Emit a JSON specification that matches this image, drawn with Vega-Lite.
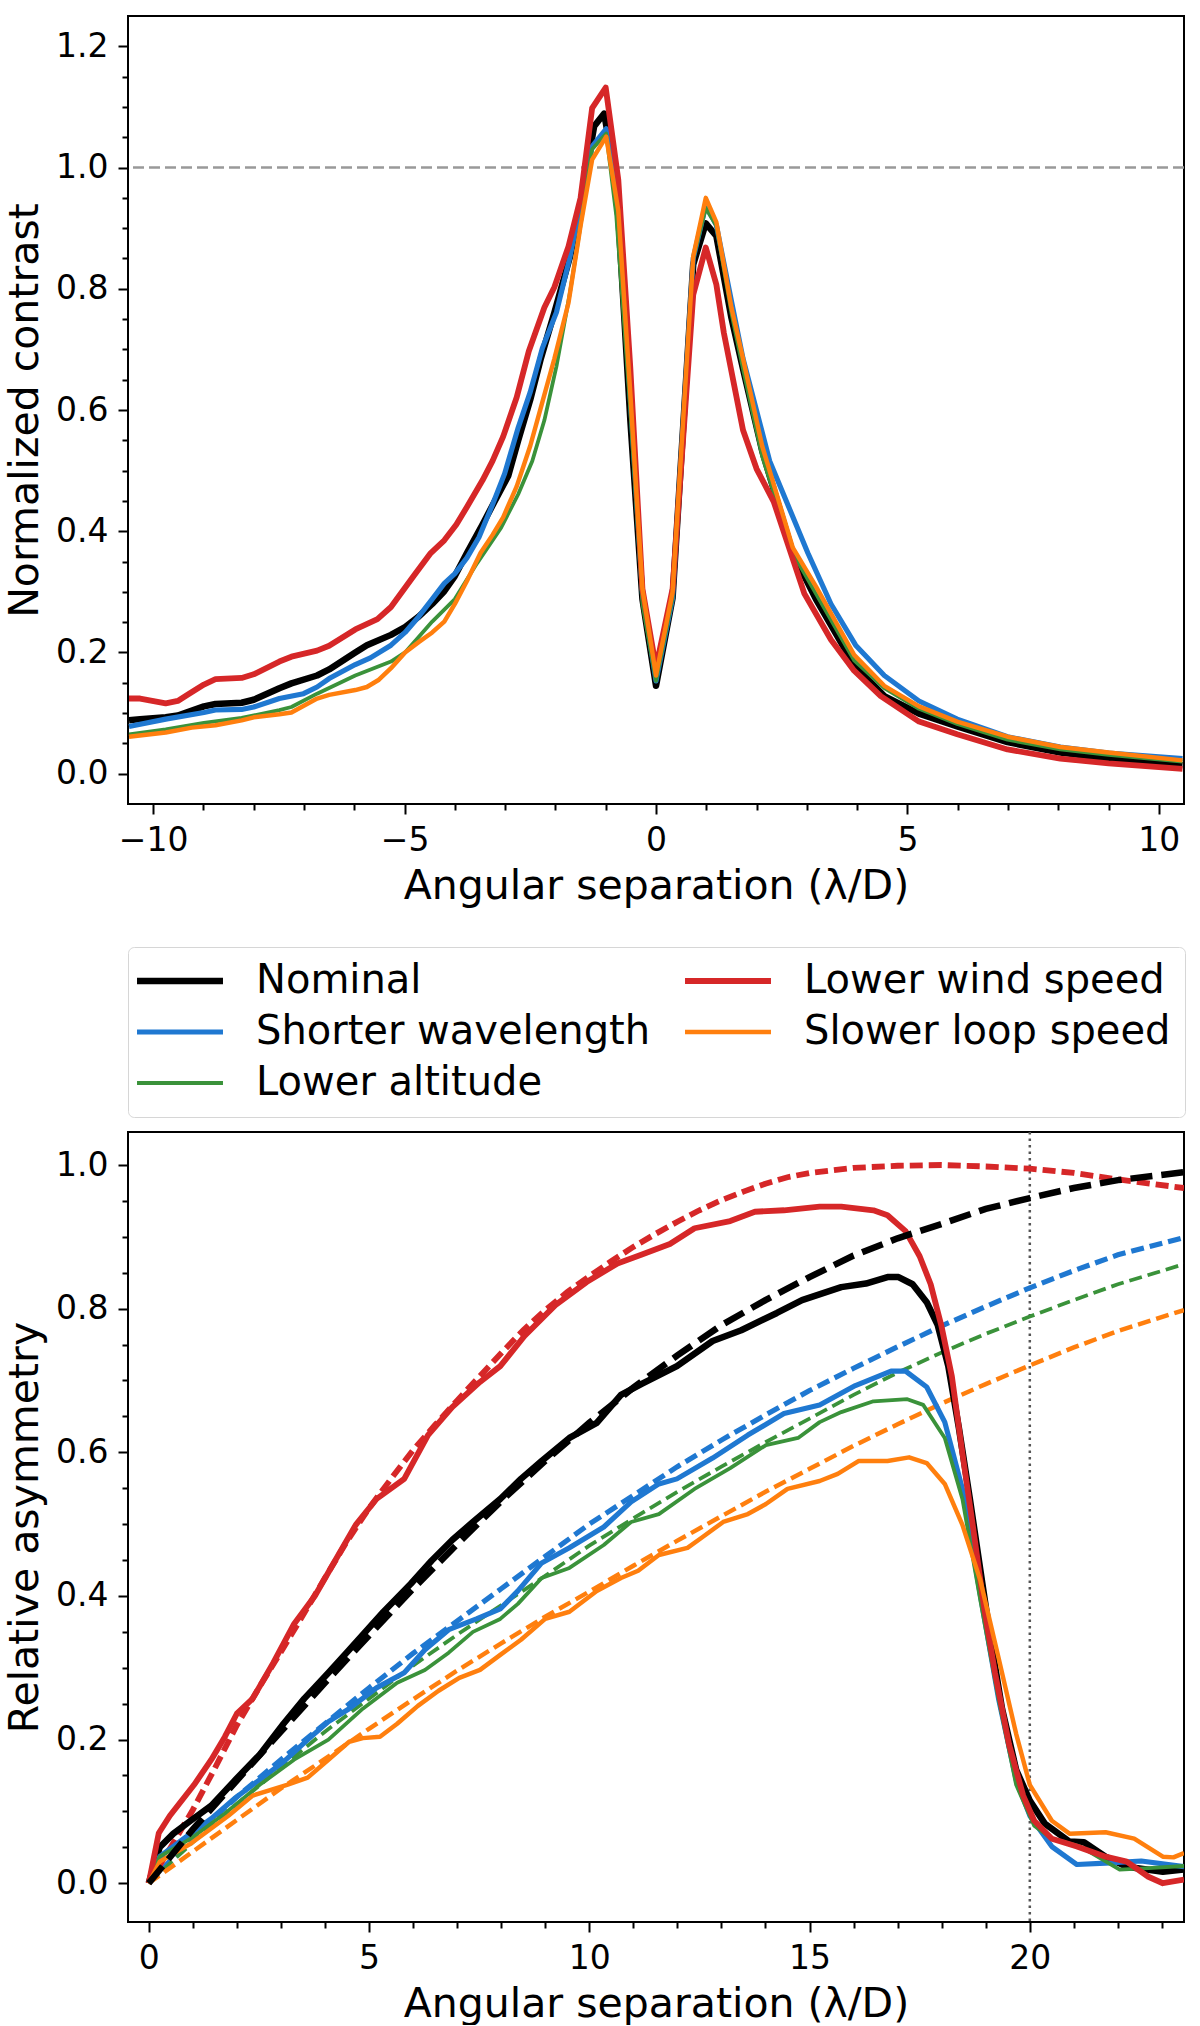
{
  "$schema": "https://vega.github.io/schema/vega-lite/v6.json",
  "padding": {"left": 3, "top": 15, "right": 0, "bottom": 0},
  "background": "white",
  "config": {
    "font": "DejaVu Sans",
    "view": {"stroke": "black", "strokeWidth": 2},
    "axis": {
      "domain": false, "grid": false,
      "labelFont": "DejaVu Sans", "labelFontSize": 33, "labelColor": "black",
      "labelPadding": 10, "labelFlush": false, "labelOverlap": false,
      "tickColor": "black", "tickWidth": 2,
      "titleFont": "DejaVu Sans", "titleFontSize": 41, "titleFontWeight": "normal", "titleColor": "black", "titlePadding": 9
    },
    "legend": {
      "title": null, "orient": "top", "columns": 2, "offset": 15,
      "symbolType": "M-4,0H4", "symbolSize": 462, "symbolOffset": 18,
      "labelFont": "DejaVu Sans", "labelFontSize": 40, "labelColor": "black", "labelLimit": 0,
      "labelOffset": 56, "columnPadding": 22, "rowPadding": 11, "padding": 14,
      "strokeColor": "#d6d6d6", "fillColor": "white", "cornerRadius": 6
    }
  },
  "datasets": {
    "contrast": [
      {"s":"Nominal","x":-10.48,"y":0.088},{"s":"Nominal","x":-10.26,"y":0.090},{"s":"Nominal","x":-9.75,"y":0.093},{"s":"Nominal","x":-9.51,"y":0.096},{"s":"Nominal","x":-8.99,"y":0.111},{"s":"Nominal","x":-8.76,"y":0.115},{"s":"Nominal","x":-8.24,"y":0.117},{"s":"Nominal","x":-8.0,"y":0.122},{"s":"Nominal","x":-7.49,"y":0.141},{"s":"Nominal","x":-7.25,"y":0.149},{"s":"Nominal","x":-6.74,"y":0.162},{"s":"Nominal","x":-6.5,"y":0.172},{"s":"Nominal","x":-5.98,"y":0.200},{"s":"Nominal","x":-5.75,"y":0.212},{"s":"Nominal","x":-5.27,"y":0.229},{"s":"Nominal","x":-4.99,"y":0.242},{"s":"Nominal","x":-4.72,"y":0.259},{"s":"Nominal","x":-4.45,"y":0.280},{"s":"Nominal","x":-4.21,"y":0.301},{"s":"Nominal","x":-4.0,"y":0.326},{"s":"Nominal","x":-3.76,"y":0.364},{"s":"Nominal","x":-3.45,"y":0.411},{"s":"Nominal","x":-3.21,"y":0.449},{"s":"Nominal","x":-2.94,"y":0.491},{"s":"Nominal","x":-2.74,"y":0.550},{"s":"Nominal","x":-2.50,"y":0.617},{"s":"Nominal","x":-2.29,"y":0.685},{"s":"Nominal","x":-2.02,"y":0.761},{"s":"Nominal","x":-1.71,"y":0.853},{"s":"Nominal","x":-1.47,"y":0.954},{"s":"Nominal","x":-1.23,"y":1.068},{"s":"Nominal","x":-1.03,"y":1.089},{"s":"Nominal","x":-0.89,"y":1.022},{"s":"Nominal","x":-0.75,"y":0.921},{"s":"Nominal","x":-0.51,"y":0.583},{"s":"Nominal","x":-0.27,"y":0.288},{"s":"Nominal","x":0,"y":0.145},{"s":"Nominal","x":0.33,"y":0.290},{"s":"Nominal","x":0.74,"y":0.840},{"s":"Nominal","x":0.99,"y":0.908},{"s":"Nominal","x":1.2,"y":0.887},{"s":"Nominal","x":1.5,"y":0.752},{"s":"Nominal","x":1.73,"y":0.668},{"s":"Nominal","x":2.11,"y":0.533},{"s":"Nominal","x":2.72,"y":0.364},{"s":"Nominal","x":3.18,"y":0.288},{"s":"Nominal","x":3.94,"y":0.179},{"s":"Nominal","x":4.54,"y":0.128},{"s":"Nominal","x":5.23,"y":0.099},{"s":"Nominal","x":5.99,"y":0.078},{"s":"Nominal","x":6.99,"y":0.052},{"s":"Nominal","x":8.04,"y":0.035},{"s":"Nominal","x":9.0,"y":0.025},{"s":"Nominal","x":10.47,"y":0.014},

      {"s":"Shorter wavelength","x":-10.48,"y":0.078},{"s":"Shorter wavelength","x":-9.75,"y":0.090},{"s":"Shorter wavelength","x":-8.99,"y":0.101},{"s":"Shorter wavelength","x":-8.76,"y":0.105},{"s":"Shorter wavelength","x":-8.24,"y":0.106},{"s":"Shorter wavelength","x":-8.0,"y":0.110},{"s":"Shorter wavelength","x":-7.49,"y":0.124},{"s":"Shorter wavelength","x":-7.01,"y":0.132},{"s":"Shorter wavelength","x":-6.74,"y":0.143},{"s":"Shorter wavelength","x":-6.5,"y":0.157},{"s":"Shorter wavelength","x":-5.98,"y":0.180},{"s":"Shorter wavelength","x":-5.68,"y":0.191},{"s":"Shorter wavelength","x":-5.27,"y":0.212},{"s":"Shorter wavelength","x":-4.99,"y":0.233},{"s":"Shorter wavelength","x":-4.72,"y":0.259},{"s":"Shorter wavelength","x":-4.45,"y":0.288},{"s":"Shorter wavelength","x":-4.21,"y":0.314},{"s":"Shorter wavelength","x":-4.0,"y":0.330},{"s":"Shorter wavelength","x":-3.76,"y":0.356},{"s":"Shorter wavelength","x":-3.52,"y":0.390},{"s":"Shorter wavelength","x":-3.25,"y":0.444},{"s":"Shorter wavelength","x":-3.01,"y":0.495},{"s":"Shorter wavelength","x":-2.74,"y":0.571},{"s":"Shorter wavelength","x":-2.50,"y":0.630},{"s":"Shorter wavelength","x":-2.26,"y":0.702},{"s":"Shorter wavelength","x":-1.98,"y":0.761},{"s":"Shorter wavelength","x":-1.71,"y":0.853},{"s":"Shorter wavelength","x":-1.50,"y":0.938},{"s":"Shorter wavelength","x":-1.27,"y":1.035},{"s":"Shorter wavelength","x":-0.99,"y":1.064},{"s":"Shorter wavelength","x":-0.75,"y":0.938},{"s":"Shorter wavelength","x":-0.51,"y":0.617},{"s":"Shorter wavelength","x":-0.27,"y":0.297},{"s":"Shorter wavelength","x":0,"y":0.153},{"s":"Shorter wavelength","x":0.33,"y":0.290},{"s":"Shorter wavelength","x":0.74,"y":0.850},{"s":"Shorter wavelength","x":0.99,"y":0.938},{"s":"Shorter wavelength","x":1.2,"y":0.905},{"s":"Shorter wavelength","x":1.5,"y":0.780},{"s":"Shorter wavelength","x":1.73,"y":0.685},{"s":"Shorter wavelength","x":2.26,"y":0.516},{"s":"Shorter wavelength","x":3.02,"y":0.364},{"s":"Shorter wavelength","x":3.48,"y":0.280},{"s":"Shorter wavelength","x":3.97,"y":0.212},{"s":"Shorter wavelength","x":4.54,"y":0.162},{"s":"Shorter wavelength","x":5.23,"y":0.120},{"s":"Shorter wavelength","x":5.99,"y":0.090},{"s":"Shorter wavelength","x":6.99,"y":0.061},{"s":"Shorter wavelength","x":8.04,"y":0.044},{"s":"Shorter wavelength","x":9.0,"y":0.034},{"s":"Shorter wavelength","x":10.47,"y":0.025},

      {"s":"Lower altitude","x":-10.48,"y":0.065},{"s":"Lower altitude","x":-9.75,"y":0.073},{"s":"Lower altitude","x":-8.99,"y":0.084},{"s":"Lower altitude","x":-8.24,"y":0.092},{"s":"Lower altitude","x":-7.49,"y":0.105},{"s":"Lower altitude","x":-7.25,"y":0.110},{"s":"Lower altitude","x":-6.74,"y":0.132},{"s":"Lower altitude","x":-5.98,"y":0.162},{"s":"Lower altitude","x":-5.27,"y":0.185},{"s":"Lower altitude","x":-4.99,"y":0.200},{"s":"Lower altitude","x":-4.45,"y":0.251},{"s":"Lower altitude","x":-4.0,"y":0.288},{"s":"Lower altitude","x":-3.56,"y":0.347},{"s":"Lower altitude","x":-3.08,"y":0.406},{"s":"Lower altitude","x":-2.74,"y":0.461},{"s":"Lower altitude","x":-2.46,"y":0.516},{"s":"Lower altitude","x":-2.22,"y":0.583},{"s":"Lower altitude","x":-1.98,"y":0.672},{"s":"Lower altitude","x":-1.71,"y":0.794},{"s":"Lower altitude","x":-1.47,"y":0.921},{"s":"Lower altitude","x":-1.27,"y":1.030},{"s":"Lower altitude","x":-0.99,"y":1.056},{"s":"Lower altitude","x":-0.79,"y":0.921},{"s":"Lower altitude","x":-0.51,"y":0.600},{"s":"Lower altitude","x":-0.27,"y":0.280},{"s":"Lower altitude","x":0,"y":0.153},{"s":"Lower altitude","x":0.33,"y":0.290},{"s":"Lower altitude","x":0.74,"y":0.850},{"s":"Lower altitude","x":0.99,"y":0.933},{"s":"Lower altitude","x":1.2,"y":0.904},{"s":"Lower altitude","x":1.5,"y":0.760},{"s":"Lower altitude","x":1.73,"y":0.668},{"s":"Lower altitude","x":2.11,"y":0.524},{"s":"Lower altitude","x":2.72,"y":0.364},{"s":"Lower altitude","x":3.18,"y":0.297},{"s":"Lower altitude","x":3.94,"y":0.187},{"s":"Lower altitude","x":4.54,"y":0.141},{"s":"Lower altitude","x":5.23,"y":0.107},{"s":"Lower altitude","x":5.99,"y":0.082},{"s":"Lower altitude","x":6.99,"y":0.056},{"s":"Lower altitude","x":8.04,"y":0.040},{"s":"Lower altitude","x":9.0,"y":0.031},{"s":"Lower altitude","x":10.47,"y":0.020},

      {"s":"Lower wind speed","x":-10.48,"y":0.124},{"s":"Lower wind speed","x":-10.26,"y":0.124},{"s":"Lower wind speed","x":-9.75,"y":0.116},{"s":"Lower wind speed","x":-9.51,"y":0.120},{"s":"Lower wind speed","x":-9.30,"y":0.131},{"s":"Lower wind speed","x":-8.99,"y":0.147},{"s":"Lower wind speed","x":-8.76,"y":0.156},{"s":"Lower wind speed","x":-8.24,"y":0.158},{"s":"Lower wind speed","x":-8.0,"y":0.164},{"s":"Lower wind speed","x":-7.49,"y":0.185},{"s":"Lower wind speed","x":-7.25,"y":0.193},{"s":"Lower wind speed","x":-6.74,"y":0.203},{"s":"Lower wind speed","x":-6.5,"y":0.211},{"s":"Lower wind speed","x":-5.98,"y":0.238},{"s":"Lower wind speed","x":-5.54,"y":0.255},{"s":"Lower wind speed","x":-5.27,"y":0.275},{"s":"Lower wind speed","x":-4.82,"y":0.326},{"s":"Lower wind speed","x":-4.48,"y":0.364},{"s":"Lower wind speed","x":-4.21,"y":0.385},{"s":"Lower wind speed","x":-3.97,"y":0.411},{"s":"Lower wind speed","x":-3.76,"y":0.440},{"s":"Lower wind speed","x":-3.45,"y":0.484},{"s":"Lower wind speed","x":-3.25,"y":0.516},{"s":"Lower wind speed","x":-3.04,"y":0.556},{"s":"Lower wind speed","x":-2.77,"y":0.621},{"s":"Lower wind speed","x":-2.53,"y":0.697},{"s":"Lower wind speed","x":-2.22,"y":0.769},{"s":"Lower wind speed","x":-2.02,"y":0.803},{"s":"Lower wind speed","x":-1.74,"y":0.870},{"s":"Lower wind speed","x":-1.50,"y":0.950},{"s":"Lower wind speed","x":-1.27,"y":1.098},{"s":"Lower wind speed","x":-1.0,"y":1.132},{"s":"Lower wind speed","x":-0.75,"y":0.980},{"s":"Lower wind speed","x":-0.51,"y":0.668},{"s":"Lower wind speed","x":-0.27,"y":0.305},{"s":"Lower wind speed","x":0,"y":0.175},{"s":"Lower wind speed","x":0.33,"y":0.305},{"s":"Lower wind speed","x":0.74,"y":0.790},{"s":"Lower wind speed","x":0.99,"y":0.868},{"s":"Lower wind speed","x":1.2,"y":0.807},{"s":"Lower wind speed","x":1.35,"y":0.727},{"s":"Lower wind speed","x":1.73,"y":0.567},{"s":"Lower wind speed","x":2.0,"y":0.503},{"s":"Lower wind speed","x":2.34,"y":0.449},{"s":"Lower wind speed","x":2.95,"y":0.297},{"s":"Lower wind speed","x":3.48,"y":0.221},{"s":"Lower wind speed","x":3.94,"y":0.170},{"s":"Lower wind speed","x":4.47,"y":0.128},{"s":"Lower wind speed","x":5.23,"y":0.086},{"s":"Lower wind speed","x":5.99,"y":0.065},{"s":"Lower wind speed","x":6.99,"y":0.040},{"s":"Lower wind speed","x":8.04,"y":0.025},{"s":"Lower wind speed","x":9.0,"y":0.017},{"s":"Lower wind speed","x":10.47,"y":0.008},

      {"s":"Slower loop speed","x":-10.48,"y":0.061},{"s":"Slower loop speed","x":-9.75,"y":0.068},{"s":"Slower loop speed","x":-9.23,"y":0.076},{"s":"Slower loop speed","x":-8.76,"y":0.080},{"s":"Slower loop speed","x":-8.24,"y":0.088},{"s":"Slower loop speed","x":-8.0,"y":0.093},{"s":"Slower loop speed","x":-7.49,"y":0.098},{"s":"Slower loop speed","x":-7.25,"y":0.101},{"s":"Slower loop speed","x":-6.74,"y":0.124},{"s":"Slower loop speed","x":-6.5,"y":0.130},{"s":"Slower loop speed","x":-5.98,"y":0.138},{"s":"Slower loop speed","x":-5.75,"y":0.143},{"s":"Slower loop speed","x":-5.51,"y":0.155},{"s":"Slower loop speed","x":-5.27,"y":0.174},{"s":"Slower loop speed","x":-4.99,"y":0.200},{"s":"Slower loop speed","x":-4.72,"y":0.217},{"s":"Slower loop speed","x":-4.45,"y":0.233},{"s":"Slower loop speed","x":-4.21,"y":0.251},{"s":"Slower loop speed","x":-4.0,"y":0.280},{"s":"Slower loop speed","x":-3.76,"y":0.318},{"s":"Slower loop speed","x":-3.49,"y":0.364},{"s":"Slower loop speed","x":-3.25,"y":0.394},{"s":"Slower loop speed","x":-3.04,"y":0.423},{"s":"Slower loop speed","x":-2.77,"y":0.474},{"s":"Slower loop speed","x":-2.50,"y":0.541},{"s":"Slower loop speed","x":-2.26,"y":0.613},{"s":"Slower loop speed","x":-2.02,"y":0.685},{"s":"Slower loop speed","x":-1.74,"y":0.777},{"s":"Slower loop speed","x":-1.50,"y":0.904},{"s":"Slower loop speed","x":-1.27,"y":1.013},{"s":"Slower loop speed","x":-0.99,"y":1.051},{"s":"Slower loop speed","x":-0.75,"y":0.929},{"s":"Slower loop speed","x":-0.51,"y":0.626},{"s":"Slower loop speed","x":-0.27,"y":0.305},{"s":"Slower loop speed","x":0,"y":0.162},{"s":"Slower loop speed","x":0.33,"y":0.300},{"s":"Slower loop speed","x":0.74,"y":0.853},{"s":"Slower loop speed","x":0.99,"y":0.950},{"s":"Slower loop speed","x":1.2,"y":0.910},{"s":"Slower loop speed","x":1.5,"y":0.769},{"s":"Slower loop speed","x":1.73,"y":0.685},{"s":"Slower loop speed","x":2.11,"y":0.541},{"s":"Slower loop speed","x":2.72,"y":0.373},{"s":"Slower loop speed","x":3.18,"y":0.309},{"s":"Slower loop speed","x":3.94,"y":0.196},{"s":"Slower loop speed","x":4.54,"y":0.145},{"s":"Slower loop speed","x":5.23,"y":0.111},{"s":"Slower loop speed","x":5.99,"y":0.086},{"s":"Slower loop speed","x":6.99,"y":0.061},{"s":"Slower loop speed","x":8.04,"y":0.044},{"s":"Slower loop speed","x":9.0,"y":0.035},{"s":"Slower loop speed","x":10.47,"y":0.022}
    ],
    "asym": [
      {"s":"Nominal","x":0,"y":0},{"s":"Nominal","x":0.25,"y":0.050},{"s":"Nominal","x":0.56,"y":0.069},{"s":"Nominal","x":0.95,"y":0.087},{"s":"Nominal","x":1.42,"y":0.108},{"s":"Nominal","x":1.97,"y":0.144},{"s":"Nominal","x":2.52,"y":0.179},{"s":"Nominal","x":3.06,"y":0.222},{"s":"Nominal","x":3.53,"y":0.257},{"s":"Nominal","x":4.08,"y":0.293},{"s":"Nominal","x":4.55,"y":0.325},{"s":"Nominal","x":5.33,"y":0.378},{"s":"Nominal","x":5.95,"y":0.417},{"s":"Nominal","x":6.42,"y":0.449},{"s":"Nominal","x":6.89,"y":0.478},{"s":"Nominal","x":7.36,"y":0.503},{"s":"Nominal","x":7.98,"y":0.535},{"s":"Nominal","x":8.45,"y":0.563},{"s":"Nominal","x":8.92,"y":0.588},{"s":"Nominal","x":9.55,"y":0.620},{"s":"Nominal","x":10.17,"y":0.641},{"s":"Nominal","x":10.72,"y":0.680},{"s":"Nominal","x":11.18,"y":0.695},{"s":"Nominal","x":11.99,"y":0.720},{"s":"Nominal","x":12.8,"y":0.755},{"s":"Nominal","x":13.45,"y":0.770},{"s":"Nominal","x":14.26,"y":0.794},{"s":"Nominal","x":14.83,"y":0.812},{"s":"Nominal","x":15.72,"y":0.830},{"s":"Nominal","x":16.28,"y":0.835},{"s":"Nominal","x":16.77,"y":0.844},{"s":"Nominal","x":17.02,"y":0.844},{"s":"Nominal","x":17.34,"y":0.834},{"s":"Nominal","x":17.66,"y":0.809},{"s":"Nominal","x":17.91,"y":0.777},{"s":"Nominal","x":18.15,"y":0.720},{"s":"Nominal","x":18.39,"y":0.634},{"s":"Nominal","x":18.64,"y":0.535},{"s":"Nominal","x":18.88,"y":0.435},{"s":"Nominal","x":19.12,"y":0.336},{"s":"Nominal","x":19.37,"y":0.243},{"s":"Nominal","x":19.69,"y":0.158},{"s":"Nominal","x":20.0,"y":0.115},{"s":"Nominal","x":20.34,"y":0.083},{"s":"Nominal","x":20.9,"y":0.058},{"s":"Nominal","x":21.23,"y":0.057},{"s":"Nominal","x":21.72,"y":0.037},{"s":"Nominal","x":22.2,"y":0.023},{"s":"Nominal","x":23.02,"y":0.016},{"s":"Nominal","x":23.5,"y":0.019},

      {"s":"Shorter wavelength","x":0,"y":0},{"s":"Shorter wavelength","x":0.25,"y":0.037},{"s":"Shorter wavelength","x":0.95,"y":0.069},{"s":"Shorter wavelength","x":1.42,"y":0.090},{"s":"Shorter wavelength","x":1.97,"y":0.119},{"s":"Shorter wavelength","x":2.52,"y":0.144},{"s":"Shorter wavelength","x":3.06,"y":0.169},{"s":"Shorter wavelength","x":3.61,"y":0.200},{"s":"Shorter wavelength","x":4.08,"y":0.225},{"s":"Shorter wavelength","x":4.55,"y":0.243},{"s":"Shorter wavelength","x":5.17,"y":0.272},{"s":"Shorter wavelength","x":5.8,"y":0.293},{"s":"Shorter wavelength","x":6.27,"y":0.325},{"s":"Shorter wavelength","x":6.81,"y":0.353},{"s":"Shorter wavelength","x":7.44,"y":0.368},{"s":"Shorter wavelength","x":7.98,"y":0.382},{"s":"Shorter wavelength","x":8.38,"y":0.407},{"s":"Shorter wavelength","x":8.92,"y":0.446},{"s":"Shorter wavelength","x":9.55,"y":0.467},{"s":"Shorter wavelength","x":10.33,"y":0.496},{"s":"Shorter wavelength","x":10.95,"y":0.531},{"s":"Shorter wavelength","x":11.58,"y":0.556},{"s":"Shorter wavelength","x":11.99,"y":0.563},{"s":"Shorter wavelength","x":12.8,"y":0.592},{"s":"Shorter wavelength","x":13.6,"y":0.624},{"s":"Shorter wavelength","x":14.42,"y":0.654},{"s":"Shorter wavelength","x":15.23,"y":0.666},{"s":"Shorter wavelength","x":16.04,"y":0.693},{"s":"Shorter wavelength","x":16.85,"y":0.713},{"s":"Shorter wavelength","x":17.18,"y":0.713},{"s":"Shorter wavelength","x":17.66,"y":0.691},{"s":"Shorter wavelength","x":18.07,"y":0.642},{"s":"Shorter wavelength","x":18.47,"y":0.549},{"s":"Shorter wavelength","x":18.88,"y":0.400},{"s":"Shorter wavelength","x":19.29,"y":0.257},{"s":"Shorter wavelength","x":19.69,"y":0.144},{"s":"Shorter wavelength","x":20.0,"y":0.094},{"s":"Shorter wavelength","x":20.5,"y":0.051},{"s":"Shorter wavelength","x":21.07,"y":0.026},{"s":"Shorter wavelength","x":21.72,"y":0.028},{"s":"Shorter wavelength","x":22.53,"y":0.031},{"s":"Shorter wavelength","x":23.5,"y":0.023},

      {"s":"Lower altitude","x":0,"y":0},{"s":"Lower altitude","x":0.25,"y":0.037},{"s":"Lower altitude","x":0.95,"y":0.062},{"s":"Lower altitude","x":1.73,"y":0.097},{"s":"Lower altitude","x":2.52,"y":0.137},{"s":"Lower altitude","x":3.3,"y":0.172},{"s":"Lower altitude","x":4.08,"y":0.200},{"s":"Lower altitude","x":4.86,"y":0.243},{"s":"Lower altitude","x":5.64,"y":0.279},{"s":"Lower altitude","x":6.27,"y":0.297},{"s":"Lower altitude","x":6.81,"y":0.321},{"s":"Lower altitude","x":7.36,"y":0.350},{"s":"Lower altitude","x":7.98,"y":0.368},{"s":"Lower altitude","x":8.38,"y":0.389},{"s":"Lower altitude","x":8.92,"y":0.425},{"s":"Lower altitude","x":9.55,"y":0.439},{"s":"Lower altitude","x":10.33,"y":0.471},{"s":"Lower altitude","x":10.95,"y":0.503},{"s":"Lower altitude","x":11.58,"y":0.514},{"s":"Lower altitude","x":12.39,"y":0.549},{"s":"Lower altitude","x":13.2,"y":0.578},{"s":"Lower altitude","x":14.01,"y":0.610},{"s":"Lower altitude","x":14.74,"y":0.620},{"s":"Lower altitude","x":15.23,"y":0.642},{"s":"Lower altitude","x":15.72,"y":0.656},{"s":"Lower altitude","x":16.45,"y":0.671},{"s":"Lower altitude","x":17.22,"y":0.674},{"s":"Lower altitude","x":17.58,"y":0.666},{"s":"Lower altitude","x":18.07,"y":0.620},{"s":"Lower altitude","x":18.47,"y":0.535},{"s":"Lower altitude","x":18.88,"y":0.393},{"s":"Lower altitude","x":19.29,"y":0.257},{"s":"Lower altitude","x":19.69,"y":0.137},{"s":"Lower altitude","x":20.1,"y":0.080},{"s":"Lower altitude","x":20.5,"y":0.062},{"s":"Lower altitude","x":21.15,"y":0.051},{"s":"Lower altitude","x":22.04,"y":0.019},{"s":"Lower altitude","x":22.69,"y":0.021},{"s":"Lower altitude","x":23.5,"y":0.024},

      {"s":"Lower wind speed","x":0,"y":0},{"s":"Lower wind speed","x":0.23,"y":0.070},{"s":"Lower wind speed","x":0.48,"y":0.094},{"s":"Lower wind speed","x":1.03,"y":0.137},{"s":"Lower wind speed","x":1.42,"y":0.172},{"s":"Lower wind speed","x":1.73,"y":0.204},{"s":"Lower wind speed","x":2.0,"y":0.236},{"s":"Lower wind speed","x":2.36,"y":0.257},{"s":"Lower wind speed","x":2.83,"y":0.307},{"s":"Lower wind speed","x":3.3,"y":0.361},{"s":"Lower wind speed","x":3.77,"y":0.400},{"s":"Lower wind speed","x":4.23,"y":0.449},{"s":"Lower wind speed","x":4.7,"y":0.499},{"s":"Lower wind speed","x":5.17,"y":0.535},{"s":"Lower wind speed","x":5.8,"y":0.563},{"s":"Lower wind speed","x":6.34,"y":0.624},{"s":"Lower wind speed","x":6.89,"y":0.663},{"s":"Lower wind speed","x":7.52,"y":0.698},{"s":"Lower wind speed","x":7.98,"y":0.720},{"s":"Lower wind speed","x":8.53,"y":0.762},{"s":"Lower wind speed","x":9.23,"y":0.805},{"s":"Lower wind speed","x":9.94,"y":0.837},{"s":"Lower wind speed","x":10.64,"y":0.863},{"s":"Lower wind speed","x":11.18,"y":0.875},{"s":"Lower wind speed","x":11.83,"y":0.890},{"s":"Lower wind speed","x":12.39,"y":0.912},{"s":"Lower wind speed","x":13.2,"y":0.922},{"s":"Lower wind speed","x":13.76,"y":0.935},{"s":"Lower wind speed","x":14.42,"y":0.937},{"s":"Lower wind speed","x":15.23,"y":0.942},{"s":"Lower wind speed","x":15.72,"y":0.942},{"s":"Lower wind speed","x":16.45,"y":0.937},{"s":"Lower wind speed","x":16.77,"y":0.930},{"s":"Lower wind speed","x":17.18,"y":0.908},{"s":"Lower wind speed","x":17.5,"y":0.873},{"s":"Lower wind speed","x":17.75,"y":0.834},{"s":"Lower wind speed","x":17.99,"y":0.777},{"s":"Lower wind speed","x":18.23,"y":0.706},{"s":"Lower wind speed","x":18.47,"y":0.599},{"s":"Lower wind speed","x":18.72,"y":0.492},{"s":"Lower wind speed","x":18.96,"y":0.385},{"s":"Lower wind speed","x":19.21,"y":0.293},{"s":"Lower wind speed","x":19.53,"y":0.193},{"s":"Lower wind speed","x":19.85,"y":0.122},{"s":"Lower wind speed","x":20.1,"y":0.087},{"s":"Lower wind speed","x":20.5,"y":0.062},{"s":"Lower wind speed","x":21.07,"y":0.051},{"s":"Lower wind speed","x":21.72,"y":0.037},{"s":"Lower wind speed","x":22.2,"y":0.030},{"s":"Lower wind speed","x":22.69,"y":0.009},{"s":"Lower wind speed","x":23.02,"y":0.000},{"s":"Lower wind speed","x":23.5,"y":0.005},

      {"s":"Slower loop speed","x":0,"y":0},{"s":"Slower loop speed","x":0.25,"y":0.030},{"s":"Slower loop speed","x":0.95,"y":0.055},{"s":"Slower loop speed","x":1.81,"y":0.094},{"s":"Slower loop speed","x":2.36,"y":0.122},{"s":"Slower loop speed","x":3.14,"y":0.137},{"s":"Slower loop speed","x":3.61,"y":0.147},{"s":"Slower loop speed","x":4.08,"y":0.172},{"s":"Slower loop speed","x":4.55,"y":0.197},{"s":"Slower loop speed","x":4.86,"y":0.202},{"s":"Slower loop speed","x":5.25,"y":0.204},{"s":"Slower loop speed","x":5.64,"y":0.222},{"s":"Slower loop speed","x":6.11,"y":0.247},{"s":"Slower loop speed","x":6.58,"y":0.268},{"s":"Slower loop speed","x":7.05,"y":0.286},{"s":"Slower loop speed","x":7.52,"y":0.297},{"s":"Slower loop speed","x":7.98,"y":0.318},{"s":"Slower loop speed","x":8.45,"y":0.339},{"s":"Slower loop speed","x":9.0,"y":0.368},{"s":"Slower loop speed","x":9.55,"y":0.378},{"s":"Slower loop speed","x":10.17,"y":0.407},{"s":"Slower loop speed","x":10.72,"y":0.425},{"s":"Slower loop speed","x":11.11,"y":0.435},{"s":"Slower loop speed","x":11.58,"y":0.457},{"s":"Slower loop speed","x":12.23,"y":0.467},{"s":"Slower loop speed","x":12.55,"y":0.481},{"s":"Slower loop speed","x":13.04,"y":0.503},{"s":"Slower loop speed","x":13.6,"y":0.514},{"s":"Slower loop speed","x":14.01,"y":0.528},{"s":"Slower loop speed","x":14.5,"y":0.549},{"s":"Slower loop speed","x":15.23,"y":0.560},{"s":"Slower loop speed","x":15.64,"y":0.570},{"s":"Slower loop speed","x":16.12,"y":0.588},{"s":"Slower loop speed","x":16.77,"y":0.588},{"s":"Slower loop speed","x":17.26,"y":0.593},{"s":"Slower loop speed","x":17.66,"y":0.585},{"s":"Slower loop speed","x":18.07,"y":0.556},{"s":"Slower loop speed","x":18.47,"y":0.499},{"s":"Slower loop speed","x":18.88,"y":0.421},{"s":"Slower loop speed","x":19.29,"y":0.314},{"s":"Slower loop speed","x":19.69,"y":0.208},{"s":"Slower loop speed","x":20.0,"y":0.137},{"s":"Slower loop speed","x":20.5,"y":0.087},{"s":"Slower loop speed","x":20.9,"y":0.069},{"s":"Slower loop speed","x":21.72,"y":0.071},{"s":"Slower loop speed","x":22.37,"y":0.062},{"s":"Slower loop speed","x":23.02,"y":0.037},{"s":"Slower loop speed","x":23.26,"y":0.036},{"s":"Slower loop speed","x":23.5,"y":0.042}
    ],
    "model": [
      {"s":"Nominal","x":0,"y":0},{"s":"Nominal","x":1,"y":0.075},{"s":"Nominal","x":2,"y":0.143},{"s":"Nominal","x":3,"y":0.211},{"s":"Nominal","x":4,"y":0.279},{"s":"Nominal","x":5,"y":0.345},{"s":"Nominal","x":6,"y":0.410},{"s":"Nominal","x":7,"y":0.472},{"s":"Nominal","x":8,"y":0.532},{"s":"Nominal","x":9,"y":0.588},{"s":"Nominal","x":10,"y":0.641},{"s":"Nominal","x":11,"y":0.690},{"s":"Nominal","x":12,"y":0.735},{"s":"Nominal","x":13,"y":0.777},{"s":"Nominal","x":14,"y":0.812},{"s":"Nominal","x":15,"y":0.844},{"s":"Nominal","x":16,"y":0.874},{"s":"Nominal","x":17,"y":0.898},{"s":"Nominal","x":18,"y":0.918},{"s":"Nominal","x":19,"y":0.939},{"s":"Nominal","x":20,"y":0.954},{"s":"Nominal","x":21,"y":0.968},{"s":"Nominal","x":22,"y":0.979},{"s":"Nominal","x":23.5,"y":0.990},

      {"s":"Shorter wavelength","x":0,"y":0},{"s":"Shorter wavelength","x":1,"y":0.064},{"s":"Shorter wavelength","x":2,"y":0.120},{"s":"Shorter wavelength","x":3,"y":0.172},{"s":"Shorter wavelength","x":4,"y":0.222},{"s":"Shorter wavelength","x":5,"y":0.272},{"s":"Shorter wavelength","x":6,"y":0.320},{"s":"Shorter wavelength","x":7,"y":0.365},{"s":"Shorter wavelength","x":8,"y":0.410},{"s":"Shorter wavelength","x":9,"y":0.455},{"s":"Shorter wavelength","x":10,"y":0.500},{"s":"Shorter wavelength","x":11,"y":0.540},{"s":"Shorter wavelength","x":12,"y":0.580},{"s":"Shorter wavelength","x":13,"y":0.617},{"s":"Shorter wavelength","x":14,"y":0.652},{"s":"Shorter wavelength","x":15,"y":0.686},{"s":"Shorter wavelength","x":16,"y":0.717},{"s":"Shorter wavelength","x":17,"y":0.747},{"s":"Shorter wavelength","x":18,"y":0.776},{"s":"Shorter wavelength","x":19,"y":0.803},{"s":"Shorter wavelength","x":20,"y":0.829},{"s":"Shorter wavelength","x":21,"y":0.853},{"s":"Shorter wavelength","x":22,"y":0.875},{"s":"Shorter wavelength","x":23.5,"y":0.899},

      {"s":"Lower altitude","x":0,"y":0},{"s":"Lower altitude","x":1,"y":0.057},{"s":"Lower altitude","x":2,"y":0.110},{"s":"Lower altitude","x":3,"y":0.161},{"s":"Lower altitude","x":4,"y":0.211},{"s":"Lower altitude","x":5,"y":0.257},{"s":"Lower altitude","x":6,"y":0.303},{"s":"Lower altitude","x":7,"y":0.346},{"s":"Lower altitude","x":8,"y":0.387},{"s":"Lower altitude","x":9,"y":0.428},{"s":"Lower altitude","x":10,"y":0.470},{"s":"Lower altitude","x":11,"y":0.508},{"s":"Lower altitude","x":12,"y":0.545},{"s":"Lower altitude","x":13,"y":0.580},{"s":"Lower altitude","x":14,"y":0.614},{"s":"Lower altitude","x":15,"y":0.647},{"s":"Lower altitude","x":16,"y":0.680},{"s":"Lower altitude","x":17,"y":0.711},{"s":"Lower altitude","x":18,"y":0.739},{"s":"Lower altitude","x":19,"y":0.765},{"s":"Lower altitude","x":20,"y":0.789},{"s":"Lower altitude","x":21,"y":0.812},{"s":"Lower altitude","x":22,"y":0.834},{"s":"Lower altitude","x":23.5,"y":0.862},

      {"s":"Lower wind speed","x":0,"y":0},{"s":"Lower wind speed","x":0.5,"y":0.050},{"s":"Lower wind speed","x":1,"y":0.102},{"s":"Lower wind speed","x":1.5,"y":0.160},{"s":"Lower wind speed","x":2,"y":0.220},{"s":"Lower wind speed","x":2.5,"y":0.272},{"s":"Lower wind speed","x":3,"y":0.322},{"s":"Lower wind speed","x":3.5,"y":0.373},{"s":"Lower wind speed","x":4,"y":0.425},{"s":"Lower wind speed","x":4.5,"y":0.476},{"s":"Lower wind speed","x":5,"y":0.522},{"s":"Lower wind speed","x":5.5,"y":0.563},{"s":"Lower wind speed","x":6,"y":0.603},{"s":"Lower wind speed","x":6.5,"y":0.638},{"s":"Lower wind speed","x":7,"y":0.672},{"s":"Lower wind speed","x":7.5,"y":0.705},{"s":"Lower wind speed","x":8,"y":0.738},{"s":"Lower wind speed","x":8.5,"y":0.770},{"s":"Lower wind speed","x":9,"y":0.798},{"s":"Lower wind speed","x":9.5,"y":0.823},{"s":"Lower wind speed","x":10,"y":0.845},{"s":"Lower wind speed","x":10.5,"y":0.866},{"s":"Lower wind speed","x":11,"y":0.886},{"s":"Lower wind speed","x":11.5,"y":0.904},{"s":"Lower wind speed","x":12,"y":0.921},{"s":"Lower wind speed","x":12.5,"y":0.937},{"s":"Lower wind speed","x":13,"y":0.951},{"s":"Lower wind speed","x":13.5,"y":0.963},{"s":"Lower wind speed","x":14,"y":0.974},{"s":"Lower wind speed","x":14.5,"y":0.983},{"s":"Lower wind speed","x":15,"y":0.989},{"s":"Lower wind speed","x":16,"y":0.996},{"s":"Lower wind speed","x":17,"y":0.999},{"s":"Lower wind speed","x":18,"y":1.000},{"s":"Lower wind speed","x":19,"y":0.998},{"s":"Lower wind speed","x":20,"y":0.995},{"s":"Lower wind speed","x":21,"y":0.989},{"s":"Lower wind speed","x":22,"y":0.980},{"s":"Lower wind speed","x":23.5,"y":0.968},

      {"s":"Slower loop speed","x":0,"y":0},{"s":"Slower loop speed","x":1,"y":0.044},{"s":"Slower loop speed","x":2,"y":0.088},{"s":"Slower loop speed","x":3,"y":0.132},{"s":"Slower loop speed","x":4,"y":0.173},{"s":"Slower loop speed","x":5,"y":0.215},{"s":"Slower loop speed","x":6,"y":0.256},{"s":"Slower loop speed","x":7,"y":0.296},{"s":"Slower loop speed","x":8,"y":0.334},{"s":"Slower loop speed","x":9,"y":0.371},{"s":"Slower loop speed","x":10,"y":0.406},{"s":"Slower loop speed","x":11,"y":0.442},{"s":"Slower loop speed","x":12,"y":0.477},{"s":"Slower loop speed","x":13,"y":0.511},{"s":"Slower loop speed","x":14,"y":0.545},{"s":"Slower loop speed","x":15,"y":0.577},{"s":"Slower loop speed","x":16,"y":0.609},{"s":"Slower loop speed","x":17,"y":0.639},{"s":"Slower loop speed","x":18,"y":0.668},{"s":"Slower loop speed","x":19,"y":0.695},{"s":"Slower loop speed","x":20,"y":0.721},{"s":"Slower loop speed","x":21,"y":0.746},{"s":"Slower loop speed","x":22,"y":0.769},{"s":"Slower loop speed","x":23.5,"y":0.798}
    ]
  },
  "spacing": 38,
  "resolve": {"legend": {"color": "independent", "strokeWidth": "independent"}},
  "vconcat": [
    {
      "width": 1056,
      "height": 788,
      "encoding": {
        "x": {
          "field": "x", "type": "quantitative",
          "scale": {"domain": [-10.5, 10.5], "nice": false, "zero": false},
          "axis": {
            "title": "Angular separation (λ/D)",
            "values": [-10,-9,-8,-7,-6,-5,-4,-3,-2,-1,0,1,2,3,4,5,6,7,8,9,10],
            "tickSize": {"condition": {"test": "datum.value % 5 === 0", "value": 10}, "value": 6},
            "labelExpr": "datum.value % 5 === 0 ? datum.label : ''"
          }
        },
        "y": {
          "field": "y", "type": "quantitative",
          "scale": {"domain": [-0.05, 1.25], "nice": false, "zero": false},
          "axis": {
            "title": "Normalized contrast",
            "values": [0,0.05,0.1,0.15,0.2,0.25,0.3,0.35,0.4,0.45,0.5,0.55,0.6,0.65,0.7,0.75,0.8,0.85,0.9,0.95,1,1.05,1.1,1.15,1.2],
            "format": ".1f",
            "tickSize": {"condition": {"test": "abs(datum.value*5 - round(datum.value*5)) < 0.001", "value": 10}, "value": 6},
            "labelExpr": "abs(datum.value*5 - round(datum.value*5)) < 0.001 ? datum.label : ''"
          }
        }
      },
      "layer": [
        {
          "data": {"values": [{"y": 1}]},
          "mark": {"type": "rule", "color": "#999999", "strokeWidth": 2.5, "strokeDash": [11, 5]},
          "encoding": {"x": null}
        },
        {
          "data": {"name": "contrast"},
          "mark": {"type": "line", "clip": true, "strokeJoin": "round"},
          "encoding": {
            "color": {
              "field": "s", "type": "nominal", "legend": null,
              "scale": {"domain": ["Nominal","Lower wind speed","Shorter wavelength","Slower loop speed","Lower altitude"], "range": ["#000000","#d62728","#1f78d1","#ff7f0e","#3a923a"]}
            },
            "strokeWidth": {
              "field": "s", "type": "nominal", "legend": null,
              "scale": {"domain": ["Nominal","Lower wind speed","Shorter wavelength","Slower loop speed","Lower altitude"], "range": [6.5,3.8,3.8,3.8,3.8]}
            }
          }
        }
      ]
    },
    {
      "width": 1056,
      "height": 790,
      "encoding": {
        "x": {
          "field": "x", "type": "quantitative",
          "scale": {"domain": [-0.47, 23.5], "nice": false, "zero": false},
          "axis": {
            "title": "Angular separation (λ/D)",
            "values": [0,1,2,3,4,5,6,7,8,9,10,11,12,13,14,15,16,17,18,19,20,21,22,23],
            "tickSize": {"condition": {"test": "datum.value % 5 === 0", "value": 10}, "value": 6},
            "labelExpr": "datum.value % 5 === 0 ? datum.label : ''"
          }
        },
        "y": {
          "field": "y", "type": "quantitative",
          "scale": {"domain": [-0.054, 1.046], "nice": false, "zero": false},
          "axis": {
            "title": "Relative asymmetry",
            "values": [0,0.05,0.1,0.15,0.2,0.25,0.3,0.35,0.4,0.45,0.5,0.55,0.6,0.65,0.7,0.75,0.8,0.85,0.9,0.95,1],
            "format": ".1f",
            "tickSize": {"condition": {"test": "abs(datum.value*5 - round(datum.value*5)) < 0.001", "value": 10}, "value": 6},
            "labelExpr": "abs(datum.value*5 - round(datum.value*5)) < 0.001 ? datum.label : ''"
          }
        }
      },
      "layer": [
        {
          "data": {"values": [{"x": 20}]},
          "mark": {"type": "rule", "color": "#555555", "strokeWidth": 2.5, "strokeDash": [2.5, 4]},
          "encoding": {"y": null}
        },
        {
          "data": {"name": "model"},
          "transform": [{"filter": "datum.s !== 'Nominal'"}],
          "mark": {"type": "line", "clip": true, "strokeDash": [13, 6]},
          "encoding": {
            "color": {"field": "s", "type": "nominal", "scale": {"domain": ["Nominal","Lower wind speed","Shorter wavelength","Slower loop speed","Lower altitude"], "range": ["#000000","#d62728","#1f78d1","#ff7f0e","#3a923a"]}},
            "strokeWidth": {"field": "s", "type": "nominal", "scale": {"domain": ["Nominal","Lower wind speed","Shorter wavelength","Slower loop speed","Lower altitude"], "range": [6.5,3.8,3.8,3.8,3.8]}}
          }
        },
        {
          "data": {"name": "asym"},
          "mark": {"type": "line", "clip": true, "strokeJoin": "round"},
          "encoding": {
            "color": {"field": "s", "type": "nominal", "scale": {"domain": ["Nominal","Lower wind speed","Shorter wavelength","Slower loop speed","Lower altitude"], "range": ["#000000","#d62728","#1f78d1","#ff7f0e","#3a923a"]}},
            "strokeWidth": {"field": "s", "type": "nominal", "scale": {"domain": ["Nominal","Lower wind speed","Shorter wavelength","Slower loop speed","Lower altitude"], "range": [6.5,3.8,3.8,3.8,3.8]}}
          }
        },
        {
          "data": {"name": "model"},
          "transform": [{"filter": "datum.s === 'Nominal'"}],
          "mark": {"type": "line", "clip": true, "strokeDash": [22, 9]},
          "encoding": {
            "color": {"field": "s", "type": "nominal", "scale": {"domain": ["Nominal","Lower wind speed","Shorter wavelength","Slower loop speed","Lower altitude"], "range": ["#000000","#d62728","#1f78d1","#ff7f0e","#3a923a"]}},
            "strokeWidth": {"field": "s", "type": "nominal", "scale": {"domain": ["Nominal","Lower wind speed","Shorter wavelength","Slower loop speed","Lower altitude"], "range": [6.5,3.8,3.8,3.8,3.8]}}
          }
        }
      ]
    }
  ]
}
